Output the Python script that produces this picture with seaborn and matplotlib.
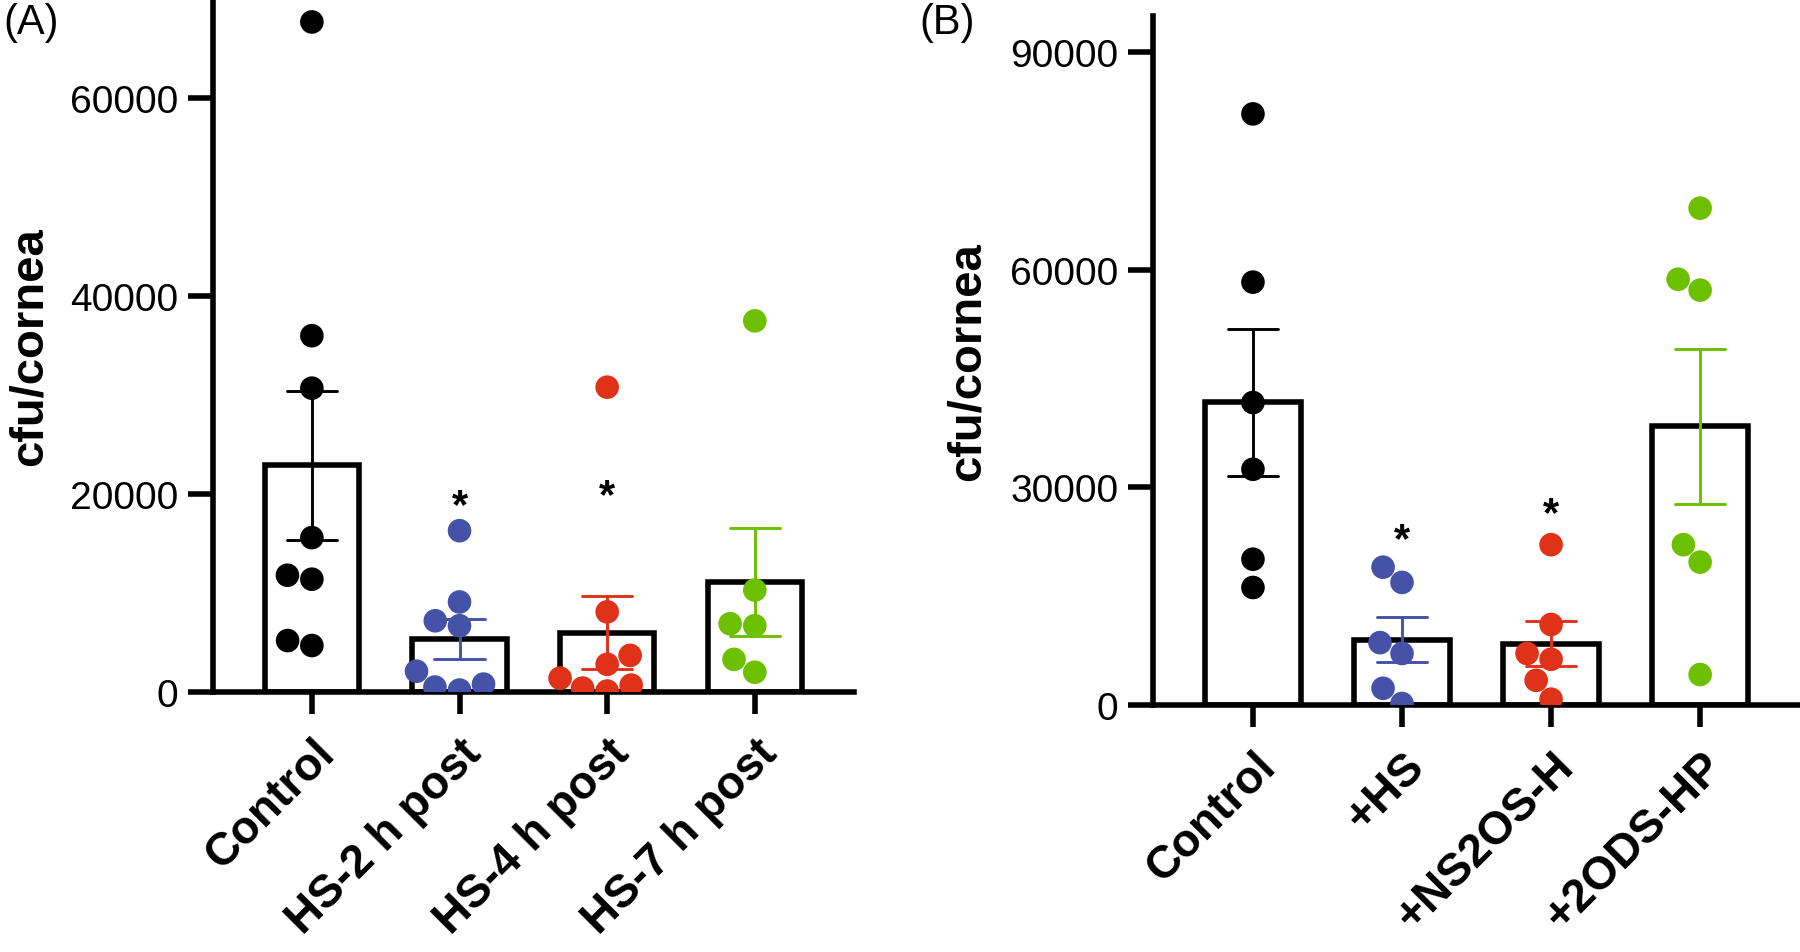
"""
cfu per cornea, two panels: bars = mean, error bars = SEM, dots = individual corneas.
"""

import numpy as np
import pandas as pd
import matplotlib
matplotlib.use("Agg")
import matplotlib.pyplot as plt
import seaborn as sns

# ---- panel A: time after HS treatment
groups_a = ["Control", "HS-2 h post", "HS-4 h post", "HS-7 h post"]
control_a = [67700, 36000, 30700, 15600, 11400, 11800, 4700, 5200]
hs2_a = [16300, 9100, 6700, 7200, 2100, 200, 500, 800]
hs4_a = [30800, 8100, 3700, 2800, 1400, 400, 100, 700]
hs7_a = [37500, 10300, 6700, 6900, 3300, 2000]
stars_a = {"HS-2 h post": 20200, "HS-4 h post": 21200}
yticks_a = [0, 20000, 40000, 60000]

# ---- panel B: heparan sulfate variants
groups_b = ["Control", "+HS", "+NS2OS-H", "+2ODS-HP"]
control_b = [81500, 58300, 41700, 32500, 20100, 16200]
hs_b = [19000, 16900, 8600, 7100, 2300, 200]
ns2os_b = [22100, 11100, 7100, 6300, 3400, 800]
ods_b = [68500, 58700, 57200, 22100, 19700, 4200]
stars_b = {"+HS": 24600, "+NS2OS-H": 28300}
yticks_b = [0, 30000, 60000, 90000]

colors = ["#000000", "#4453A8", "#E03219", "#6DC000"]


def draw_panel(ax, groups, values, stars, ylim_top, yticks):
    """Bar (mean) + swarm of points + SEM error bars for one panel."""
    df = pd.DataFrame({
        "group": np.repeat(groups, [len(v) for v in values]),
        "cfu": np.concatenate(values),
    })

    sns.barplot(data=df, x="group", y="cfu", order=groups, errorbar=None,
                width=0.64, color="white", saturation=1,
                edgecolor="black", linewidth=4, ax=ax)
    sns.swarmplot(data=df, x="group", y="cfu", order=groups, hue="group",
                  hue_order=groups, palette=colors, size=17, linewidth=0,
                  legend=False, ax=ax)
    sns.pointplot(data=df, x="group", y="cfu", order=groups, hue="group",
                  hue_order=groups, palette=colors, errorbar="se",
                  capsize=0.34, linestyle="none", marker="",
                  err_kws={"linewidth": 2.1}, legend=False, ax=ax)

    for g, y in stars.items():
        ax.annotate("*", xy=(groups.index(g), y), xytext=(0, -18),
                    textcoords="offset points", ha="center", va="baseline",
                    fontsize=30, fontweight="bold")

    ax.set_xlim(-0.67, 3.67)
    ax.set_ylim(0, ylim_top)
    ax.set_yticks(yticks)
    ax.set_yticklabels([str(t) for t in yticks], fontsize=28)
    ax.set_xticks(range(len(groups)))
    ax.set_xticklabels(groups, fontsize=33, fontweight="bold", rotation=45,
                       ha="right", va="top", rotation_mode="anchor")
    ax.tick_params(axis="y", length=18, width=4, pad=7)
    ax.tick_params(axis="x", length=16, width=4, pad=12)
    for side in ["top", "right"]:
        ax.spines[side].set_visible(False)
    for side in ["left", "bottom"]:
        ax.spines[side].set_linewidth(4)
    ax.set_xlabel("")
    ax.set_ylabel("cfu/cornea", fontsize=34, fontweight="bold")
    ax.yaxis.set_label_coords(-0.252, 0.5)


sns.set_style("ticks")
plt.rcParams["font.family"] = ["Liberation Sans", "DejaVu Sans"]
for key in ["text.color", "axes.edgecolor", "axes.labelcolor",
            "xtick.color", "ytick.color"]:
    plt.rcParams[key] = "black"

fig = plt.figure(figsize=(18, 9.53), dpi=100)
ax_a = fig.add_axes([0.1183, 0.2728, 0.356, 0.727])
ax_b = fig.add_axes([0.6406, 0.2592, 0.3594, 0.723])

draw_panel(ax_a, groups_a, [control_a, hs2_a, hs4_a, hs7_a], stars_a, 70000, yticks_a)
draw_panel(ax_b, groups_b, [control_b, hs_b, ns2os_b, ods_b], stars_b, 95000, yticks_b)

fig.text(0.002, 0.997, "(A)", fontsize=30, ha="left", va="top")
fig.text(0.511, 0.997, "(B)", fontsize=30, ha="left", va="top")

fig.savefig("out.png", dpi=100)
plt.close(fig)
